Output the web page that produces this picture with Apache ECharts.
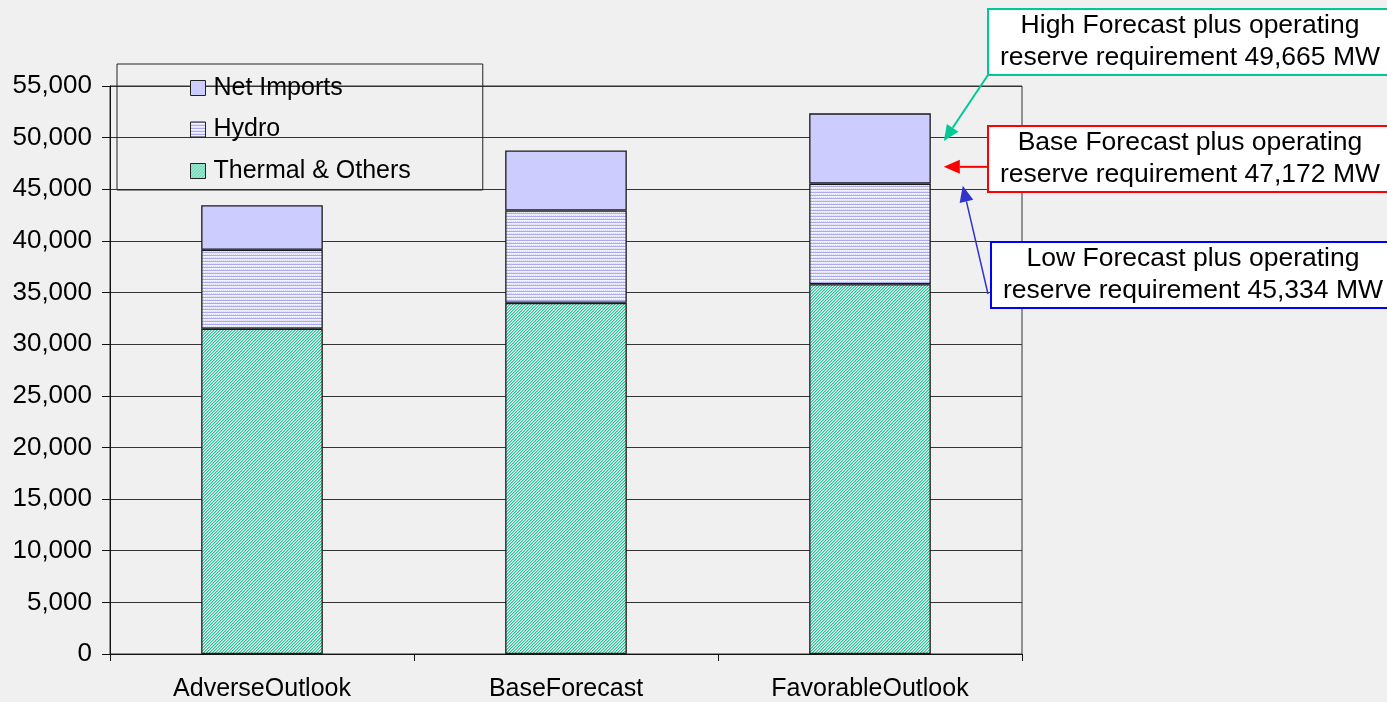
<!DOCTYPE html>
<html>
<head>
<meta charset="utf-8">
<script src="https://cdn.jsdelivr.net/npm/echarts@6/dist/echarts.min.js"></script>
<style>
  html, body { margin: 0; padding: 0; background: #f0f0f0; }
  #chart { width: 1387px; height: 702px; }
</style>
</head>
<body>
<div id="chart"></div>
<script>
// Supply mix per scenario (MW)
const categories = ['AdverseOutlook', 'BaseForecast', 'FavorableOutlook'];
const thermalOthers = [31500, 34000, 35800];
const hydro = [7650, 8950, 9750];
const netImports = [4300, 5800, 6800];

// Value axis range
const yMin = 0;
const yMax = 55000;
const yStep = 5000;

// Forecast plus operating reserve requirement (MW)
const reserveNames = ['High Forecast', 'Base Forecast', 'Low Forecast'];
const reserveValues = [49665, 47172, 45334];

const FONT = '"Liberation Sans", Arial, sans-serif';
const fmt = v => Number(v).toLocaleString('en-US');

function makePattern(w, h, draw) {
  const c = document.createElement('canvas');
  c.width = w; c.height = h;
  draw(c.getContext('2d'), w, h);
  return { image: c, repeat: 'repeat' };
}

// fine diagonal hatch, teal on white
const thermalFill = makePattern(3, 3, (g) => {
  g.fillStyle = '#ffffff'; g.fillRect(0, 0, 3, 3);
  for (let x = 0; x < 3; x++) for (let y = 0; y < 3; y++) {
    const k = (x + y) % 3;
    if (k === 0) { g.fillStyle = '#1fc794'; g.fillRect(x, y, 1, 1); }
    else if (k === 1) { g.fillStyle = '#86e0c4'; g.fillRect(x, y, 1, 1); }
  }
});
// narrow horizontal lavender stripes
const hydroFill = makePattern(4, 3, (g) => {
  g.fillStyle = '#f1f1ff'; g.fillRect(0, 0, 4, 3);
  g.fillStyle = '#aaaaf0'; g.fillRect(0, 0, 4, 1);
  g.fillStyle = '#d6d6fa'; g.fillRect(1, 2, 1, 1); g.fillRect(3, 2, 1, 1);
});
const importsFill = '#ccccff';

const chart = echarts.init(document.getElementById('chart'), null, { renderer: 'canvas' });

const barStyle = (fill) => ({ color: fill, borderColor: '#1a1a1a', borderWidth: 1.3 });

chart.setOption({
  backgroundColor: '#f0f0f0',
  animation: false,
  textStyle: { fontFamily: FONT },
  grid: {
    left: 110, right: 365, top: 86, bottom: 47,
    show: true, borderColor: '#333', borderWidth: 1, backgroundColor: 'transparent'
  },
  legend: {
    orient: 'vertical',
    left: 117, top: 64,
    padding: [10, 72, 5, 73],
    itemGap: 13.5,
    itemWidth: 15, itemHeight: 15,
    icon: 'rect',
    borderColor: '#222', borderWidth: 1,
    backgroundColor: 'transparent',
    data: ['Net Imports', 'Hydro', 'Thermal & Others'],
    itemStyle: { borderColor: '#222', borderWidth: 1 },
    textStyle: { fontFamily: FONT, fontSize: 25, color: '#000', lineHeight: 28, padding: [0, 0, 0, 3] }
  },
  xAxis: {
    type: 'category',
    data: categories,
    axisLine: { lineStyle: { color: '#111', width: 1 } },
    axisTick: { show: true, length: 7, lineStyle: { color: '#111' } },
    axisLabel: { fontFamily: FONT, fontSize: 25, color: '#000', margin: 23 }
  },
  yAxis: {
    type: 'value',
    min: yMin, max: yMax, interval: yStep,
    axisLine: { show: true, lineStyle: { color: '#111', width: 1 } },
    axisTick: { show: true, length: 8, lineStyle: { color: '#111' } },
    splitLine: { lineStyle: { color: '#333', width: 1 } },
    axisLabel: { fontFamily: FONT, fontSize: 26, color: '#000', margin: 18, formatter: fmt }
  },
  series: [
    { name: 'Thermal & Others', type: 'bar', stack: 'supply', barWidth: '40%', data: thermalOthers, itemStyle: barStyle(thermalFill) },
    { name: 'Hydro', type: 'bar', stack: 'supply', barWidth: '40%', data: hydro, itemStyle: barStyle(hydroFill) },
    { name: 'Net Imports', type: 'bar', stack: 'supply', barWidth: '40%', data: netImports, itemStyle: barStyle(importsFill) }
  ]
});

// Callout boxes with arrows pointing at each reserve requirement level
function drawCallouts() {
  const x0 = chart.convertToPixel({ xAxisIndex: 0 }, categories[0]);
  const x1 = chart.convertToPixel({ xAxisIndex: 0 }, categories[1]);
  const xLast = chart.convertToPixel({ xAxisIndex: 0 }, categories[categories.length - 1]);
  const band = x1 - x0;
  const barRight = xLast + band * 0.2;

  const boxes = [
    { color: '#00c896', arrow: '#00c896', x: 988, y: 9,   tipDx: 13, from: 'corner' },
    { color: '#ff0000', arrow: '#ff0000', x: 988, y: 126, tipDx: 13, from: 'level' },
    { color: '#0000ff', arrow: '#3333cc', x: 991, y: 242, tipDx: 32, from: 'low' }
  ];
  const W = 410, H = 66;
  const elements = [];

  boxes.forEach((b, i) => {
    const tipY = chart.convertToPixel({ yAxisIndex: 0 }, reserveValues[i]);
    const tipX = barRight + b.tipDx;
    let sx, sy;
    if (b.from === 'corner') { sx = b.x; sy = b.y + H; }
    else if (b.from === 'level') { sx = b.x; sy = tipY; }
    else { sx = b.x - 3; sy = b.y + H - 14; }

    const dx = tipX - sx, dy = tipY - sy;
    const len = Math.hypot(dx, dy);
    const ux = dx / len, uy = dy / len;
    const L = 16, hw = 7;
    const bx = tipX - ux * L, by = tipY - uy * L;

    elements.push({
      type: 'line', z: 100,
      shape: { x1: sx, y1: sy, x2: bx, y2: by },
      style: { stroke: b.arrow, lineWidth: b.from === 'low' ? 1.5 : 2 }
    });
    elements.push({
      type: 'polygon', z: 100,
      shape: { points: [[tipX, tipY], [bx - uy * hw, by + ux * hw], [bx + uy * hw, by - ux * hw]] },
      style: { fill: b.arrow }
    });
    elements.push({
      type: 'rect', z: 100,
      shape: { x: b.x, y: b.y, width: W, height: H },
      style: { fill: '#ffffff', stroke: b.color, lineWidth: 2 }
    });
    elements.push({
      type: 'text', z: 101,
      x: b.x + 202, y: b.y + H / 2,
      style: {
        text: reserveNames[i] + ' plus operating\nreserve requirement ' + fmt(reserveValues[i]) + ' MW',
        fontFamily: FONT, fontSize: 26.5, lineHeight: 32,
        fill: '#000', align: 'center', verticalAlign: 'middle'
      }
    });
  });

  chart.setOption({ graphic: elements });
}
drawCallouts();
</script>
</body>
</html>
